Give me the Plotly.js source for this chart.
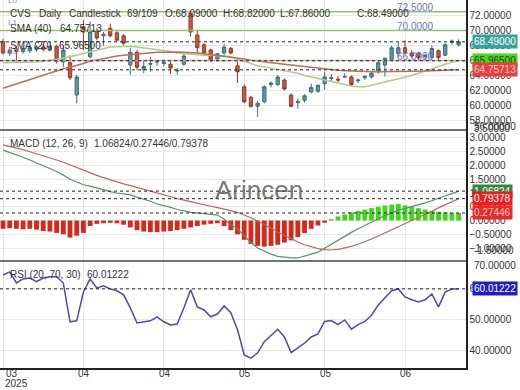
<!DOCTYPE html>
<html><head><meta charset="utf-8">
<script src="https://cdn.plot.ly/plotly-3.0.1.min.js"></script>
<style>html,body{margin:0;padding:0;background:#fff}#chart{width:520px;height:390px}</style>
</head><body><div id="chart"></div>
<script>
// ---- data ----
const opens  = [68.5,67.0,67.5,67.2,67.3,67.5,67.8,67.4,67.9,65.8,65.7,61.4,70.5,66.5,69.8,69.3,70.3,69.7,69.3,65.4,67.1,64.8,65.5,65.8,65.6,65.5,64.6,65.5,72.3,69.4,68.1,67.4,66.2,67.0,67.6,65.3,62.5,61.1,59.9,60.5,62.8,62.8,63.4,61.4,60.4,60.7,61.8,61.9,62.9,63.6,63.5,63.8,63.8,63.3,63.7,63.8,64.5,65.4,66.1,66.9,67.7,67.0,67.0,66.5,66.4,67.3,66.7,68.4,68.09];
const highs  = [68.9,67.8,67.9,67.9,67.9,68.0,68.2,68.1,68.1,68.0,66.7,64.1,71.4,71.2,70.3,69.8,70.9,70.0,69.5,67.7,67.4,66.0,66.5,65.9,65.9,65.9,65.0,66.9,72.6,70.1,68.3,67.6,67.0,68.2,67.8,66.3,62.8,61.3,60.6,62.7,63.2,64.1,63.6,61.6,60.9,61.5,62.9,62.8,64.5,64.2,63.9,64.3,64.0,63.6,64.0,64.5,66.0,66.4,68.0,68.4,68.7,67.4,67.2,66.9,68.0,67.5,68.3,68.8,68.82];
const lows   = [66.8,66.6,65.8,66.9,67.0,67.2,67.2,67.2,65.6,65.1,63.4,60.3,67.4,66.3,68.7,68.0,69.1,68.6,68.0,64.1,64.7,64.3,64.5,65.3,65.2,64.2,64.1,65.3,69.2,67.0,66.8,65.8,65.9,66.7,66.8,63.0,60.3,59.7,58.5,60.3,62.4,62.6,62.0,59.8,59.6,60.4,61.6,61.7,62.1,63.2,63.1,63.7,62.6,63.0,63.4,63.6,64.2,63.9,66.0,66.4,66.8,66.3,66.2,66.2,66.2,66.0,66.6,68.1,67.86];
const closes = [67.0,67.4,67.2,67.6,67.7,67.8,67.5,67.9,65.9,67.4,63.7,63.8,69.8,69.8,69.0,69.5,69.3,68.7,68.3,67.1,65.1,65.2,65.6,65.85,65.8,65.0,64.65,66.6,69.8,67.7,67.0,66.1,66.9,67.8,67.0,64.5,60.5,59.9,60.3,62.5,63.0,63.8,62.2,59.9,60.5,61.3,62.4,62.7,63.8,63.7,63.4,63.85,62.8,63.4,63.9,64.3,65.7,66.3,67.7,67.7,67.0,66.6,66.4,66.7,67.6,66.4,68.1,68.6,68.49];
const sma20  = [65.7,65.7,65.7,65.7,65.75,65.8,65.9,66.0,66.1,66.3,66.5,66.7,67.0,67.2,67.4,67.6,67.8,67.85,67.9,67.9,67.8,67.7,67.6,67.5,67.4,67.2,67.0,66.9,66.8,66.75,66.7,66.7,66.7,66.6,66.5,66.2,65.8,65.5,65.3,65.15,65.0,64.8,64.6,64.45,64.3,64.0,63.8,63.5,63.3,63.1,62.9,62.75,62.6,62.5,62.5,62.7,62.9,63.1,63.4,63.6,63.8,64.0,64.3,64.6,65.0,65.2,65.5,65.75,65.965];
const sma40  = [62.3,62.6,62.9,63.2,63.5,63.8,64.1,64.4,64.6,64.9,65.1,65.3,65.6,65.9,66.1,66.3,66.5,66.6,66.7,66.8,66.9,67.0,67.05,67.1,67.1,67.15,67.15,67.1,67.1,67.0,66.9,66.8,66.7,66.6,66.5,66.4,66.2,66.05,65.9,65.8,65.7,65.6,65.5,65.35,65.2,65.1,65.0,64.9,64.8,64.75,64.7,64.65,64.6,64.55,64.5,64.5,64.5,64.5,64.5,64.5,64.5,64.55,64.6,64.6,64.65,64.7,64.7,64.74,64.757];
const macdLine   = [2.56,2.48,2.40,2.30,2.20,2.10,1.98,1.88,1.78,1.65,1.50,1.40,1.30,1.25,1.18,1.10,1.05,1.00,0.96,0.93,0.85,0.78,0.70,0.60,0.55,0.48,0.40,0.35,0.30,0.28,0.25,0.22,0.20,0.05,-0.15,-0.30,-0.55,-0.80,-1.00,-1.12,-1.22,-1.30,-1.33,-1.36,-1.36,-1.30,-1.22,-1.15,-1.00,-0.85,-0.70,-0.57,-0.43,-0.30,-0.18,-0.05,0.09,0.18,0.28,0.38,0.44,0.50,0.56,0.64,0.72,0.82,0.90,0.98,1.06824];
const signalLine = [2.75,2.70,2.64,2.58,2.50,2.43,2.36,2.28,2.20,2.12,2.02,1.92,1.82,1.73,1.64,1.56,1.48,1.40,1.33,1.27,1.20,1.13,1.06,0.99,0.92,0.86,0.80,0.74,0.68,0.62,0.57,0.52,0.47,0.42,0.36,0.29,0.20,0.10,-0.02,-0.14,-0.28,-0.42,-0.55,-0.67,-0.78,-0.88,-0.96,-1.02,-1.06,-1.07,-1.05,-1.00,-0.94,-0.86,-0.77,-0.67,-0.56,-0.45,-0.34,-0.23,-0.12,-0.01,0.10,0.22,0.34,0.46,0.58,0.69,0.79378];
const macdHist   = [-0.30,-0.28,-0.30,-0.32,-0.30,-0.33,-0.38,-0.40,-0.45,-0.50,-0.62,-0.55,-0.45,-0.20,-0.12,-0.10,-0.08,-0.10,-0.15,-0.25,-0.35,-0.40,-0.42,-0.42,-0.40,-0.38,-0.35,-0.30,-0.25,-0.20,-0.15,-0.12,-0.10,-0.20,-0.35,-0.50,-0.70,-0.85,-0.92,-0.95,-0.92,-0.88,-0.80,-0.72,-0.60,-0.45,-0.30,-0.18,-0.08,0.05,0.15,0.22,0.30,0.35,0.40,0.45,0.50,0.55,0.58,0.60,0.55,0.50,0.45,0.40,0.35,0.32,0.30,0.28,0.27446];
const rsi = [64.5,65.5,61.9,63.2,63.5,62.3,63.5,63.9,63.9,61.9,49.4,49.7,59.0,63.2,60.3,61.0,60.0,59.4,58.1,53.9,49.0,49.4,49.7,51.0,49.4,48.4,48.7,53.9,59.7,54.2,53.2,51.0,51.9,54.5,52.3,46.8,38.7,37.7,39.4,43.0,45.0,47.0,44.5,39.5,41.0,42.5,44.5,45.5,49.5,49.8,48.5,50.0,47.0,48.5,49.5,51.5,54.8,57.0,59.4,60.0,57.4,56.5,55.8,56.5,58.4,54.2,59.0,60.0,60.01222];
const tickIdx  = [0, 12, 24, 36, 48, 60];
const tickText = ['03', '04', '04', '05', '05', '06'];
const yearText = '2025';
const levelValues = [72.5, 70.0, 66.0];
const levelText   = ['72.5000', '70.0000', '66.0000'];
const headerItems = ['CVS', 'Daily', 'Candlestick', '69/109', 'O:68.09000', 'H:68.82000', 'L:67.86000', 'C:68.49000'];
const sma40Last = 64.75713, sma20Last = 65.965, closeLast = 68.49;
const macdLast = 1.06824, histLast = 0.27446, signalLast = 0.79378;
const rsiLast = 60.01222;

// ---- layout helpers ----
const xs = opens.map((_, i) => i);
const FONT = 'Liberation Sans, Arial, sans-serif';
const D_PRICE = [0.6467, 1], D_MACD = [0.2908, 0.6467], D_RSI = [0, 0.2908];

const traces = [
  {type:'candlestick', x:xs, open:opens, high:highs, low:lows, close:closes, xaxis:'x', yaxis:'y',
   increasing:{line:{color:'#3f6e76', width:1}, fillcolor:'#5d98a0'},
   decreasing:{line:{color:'#8e3b2a', width:1}, fillcolor:'#c65a40'},
   whiskerwidth:0, hoverinfo:'skip'},
  {type:'scatter', mode:'lines', x:xs, y:sma20, xaxis:'x', yaxis:'y', line:{color:'#a9cf85', width:1.5}, hoverinfo:'skip'},
  {type:'scatter', mode:'lines', x:xs, y:sma40, xaxis:'x', yaxis:'y', line:{color:'#b9705c', width:1.5}, hoverinfo:'skip'},
  {type:'bar', x:xs, y:macdHist, xaxis:'x', yaxis:'y2', width:0.72,
   marker:{color:macdHist.map(v => v >= 0 ? '#3fd61e' : '#d8281a'), line:{width:0}}, hoverinfo:'skip'},
  {type:'scatter', mode:'lines', x:xs, y:macdLine, xaxis:'x', yaxis:'y2', line:{color:'#5f8d72', width:1.2}, hoverinfo:'skip'},
  {type:'scatter', mode:'lines', x:xs, y:signalLine, xaxis:'x', yaxis:'y2', line:{color:'#b06a5a', width:1.2}, hoverinfo:'skip'},
  {type:'scatter', mode:'lines', x:xs, y:rsi, xaxis:'x', yaxis:'y3', line:{color:'#4d4da3', width:1.5}, hoverinfo:'skip'}
];

const yCommon = {side:'right', showline:true, linecolor:'#222', linewidth:1.5, showgrid:true, gridcolor:'#e8e8e8',
  zeroline:false, ticks:'', tickformat:'.5f', tickfont:{size:10, color:'#333', family:FONT}, anchor:'x', fixedrange:true};

const shapes = [];
const ann = [];
function hline(yref, y, color, width, dash) {
  shapes.push({type:'line', xref:'paper', x0:0, x1:1, yref:yref, y0:y, y1:y, line:{color:color, width:width, dash:dash}});
}
// level lines
levelValues.forEach((v, k) => {
  hline('y', v, k < 2 ? '#93c274' : '#c9a3a3', 1.6, 'solid');
  ann.push({xref:'x', x:61.6, yref:'y', y:v, yanchor:'bottom', yshift:-3, text:levelText[k], showarrow:false,
            font:{size:10, color:'#6f6fd2', family:FONT}});
});
// dashed last-value lines
hline('y', closeLast, '#222', 1, 'dot');
hline('y', sma20Last, '#222', 1, 'dot');
hline('y', sma40Last, '#222', 1, 'dot');
hline('y2', macdLast, '#222', 1, 'dot');
hline('y2', signalLast, '#222', 1, 'dot');
hline('y2', histLast, '#222', 1, 'dot');
hline('y3', rsiLast, '#222', 1, 'dot');
// panel separators
[D_MACD[1], D_RSI[1]].forEach(p => shapes.push({type:'line', xref:'paper', x0:0, x1:1, yref:'paper', y0:p, y1:p, line:{color:'#444', width:1.5}}));

// header
const headerX = [8, 37, 67, 125, 163, 221, 278, 355];
headerItems.forEach((t, k) => ann.push({xref:'paper', x:headerX[k]/466, xanchor:'left', yref:'paper', y:1, yanchor:'middle', yshift:-13,
  text:t, showarrow:false, font:{size:10, color:'#333', family:FONT}}));
function leftText(t, xpx, ypx, color, size) {
  ann.push({xref:'paper', x:xpx/466, xanchor:'left', yref:'paper', y:1 - ypx/368, yanchor:'middle', text:t, showarrow:false,
            font:{size:size || 10, color:color || '#333', family:FONT}});
}
leftText('SMA (40)', 8, 29); leftText(sma40Last.toFixed(5), 58, 29);
leftText('SMA (20)', 8, 45); leftText(sma20Last.toFixed(5), 57, 45);
leftText('L0', 6, 1, '#8a8ad8', 8); leftText('L1', 6, 22, '#8a8ad8', 8); leftText('L2', 7, 51, '#8a8ad8', 8);
leftText('MACD (12, 26, 9)', 8, 143);
leftText(macdLast.toFixed(5) + '/' + histLast.toFixed(5) + '/' + signalLast.toFixed(5), 92, 143);
leftText('RSI (20, 70, 30)', 8, 274);
leftText(rsiLast.toFixed(5), 85, 274);

// watermark
ann.push({xref:'paper', x:259/466, yref:'y2', y:1.1, text:'Arincen', showarrow:false,
          font:{size:26, color:'rgba(85,85,85,0.8)', family:FONT}});

// value boxes on the right axis
function box(yref, y, t, bg, fg) {
  ann.push({xref:'paper', x:1, xanchor:'left', xshift:6, yref:yref, y:y, yanchor:'middle', text:t, showarrow:false,
            bgcolor:bg, borderpad:1, font:{size:10, color:fg, family:FONT}});
}
box('y', closeLast, closeLast.toFixed(5), '#35a39c', '#ffffff');
box('y', sma20Last, sma20Last.toFixed(5), '#47d81c', '#2b3d14');
box('y', sma40Last, sma40Last.toFixed(5), '#f03c3c', '#ffd6d6');
box('y2', macdLast, macdLast.toFixed(5), '#2f8a3c', '#ffffff');
box('y2', signalLast, signalLast.toFixed(5), '#ee1e1e', '#ffffff');
box('y2', histLast, histLast.toFixed(5), '#e62a2a', '#ffc8c8');
box('y3', rsiLast, rsiLast.toFixed(5), '#1e1ec8', '#ffffff');

// clamped edge labels
function edge(yp, shift, t) {
  ann.push({xref:'paper', x:1, xanchor:'left', xshift:6, yref:'paper', y:yp, yanchor:'middle', yshift:shift, text:t, showarrow:false,
            font:{size:10, color:'#333', family:FONT}});
}
edge(D_PRICE[0], 4, '56.00000');
edge(D_MACD[1], 2, '3.50000');
edge(D_MACD[0], 10, '-1.50000');
edge(D_RSI[1], -5, '70.00000');

// x labels
tickIdx.forEach((v, k) => ann.push({xref:'x', x:v, xshift: k === 0 ? 9 : 1, yref:'paper', y:0, yanchor:'top', yshift:2,
  text:tickText[k], showarrow:false, font:{size:10, color:'#333', family:FONT}}));
ann.push({xref:'paper', x:0, xanchor:'left', xshift:3, yref:'paper', y:0, yanchor:'top', yshift:-8, text:yearText, showarrow:false,
  font:{size:10, color:'#333', family:FONT}});

const layout = {
  width:520, height:390, margin:{l:0, r:54, t:0, b:22}, paper_bgcolor:'#fff', plot_bgcolor:'#fff',
  showlegend:false, hovermode:false, font:{family:FONT},
  xaxis:{range:[-0.45, 69.1], tickvals:tickIdx, showticklabels:false, ticks:'', showgrid:true, gridcolor:'#e8e8e8',
         zeroline:false, showline:true, linecolor:'#222', linewidth:1.5, anchor:'y3', rangeslider:{visible:false}, fixedrange:true},
  yaxis:Object.assign({}, yCommon, {domain:D_PRICE, range:[56.73, 74.07], tickvals:[56,58,60,62,64,66,68,70,72]}),
  yaxis2:Object.assign({}, yCommon, {domain:D_MACD, range:[-1.47, 3.29], tickvals:[-1,-0.5,0,0.5,1,1.5,2,2.5,3]}),
  yaxis3:Object.assign({}, yCommon, {domain:D_RSI, range:[34.5, 69.0], tickvals:[40,50,60,70]}),
  shapes:shapes, annotations:ann, bargap:0.25
};
Plotly.newPlot('chart', traces, layout, {staticPlot:true, displayModeBar:false});
</script></body></html>
